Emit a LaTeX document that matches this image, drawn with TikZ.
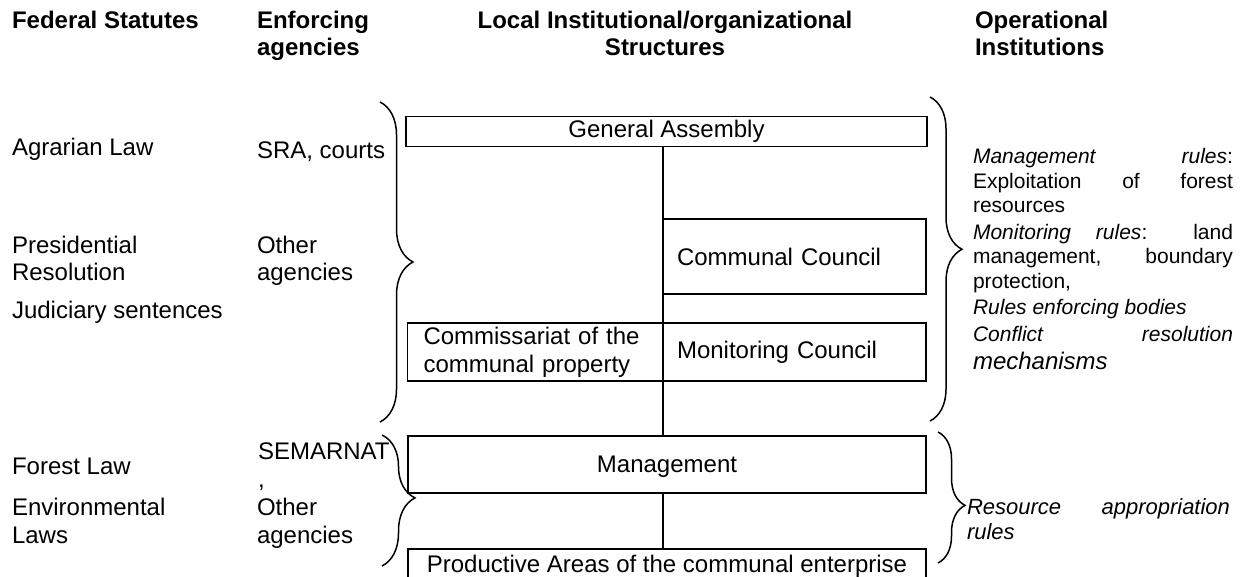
\documentclass[tikz,border=0pt]{standalone}
\usepackage{fontspec}
\setmainfont{Liberation Sans}
\usetikzlibrary{decorations.pathreplacing}
\newlength\colw
\setlength\colw{130pt}
\newlength\lowcolw
\setlength\lowcolw{131.5pt}
\newlength\comw
\setlength\comw{112pt}
\begin{document}
\begin{tikzpicture}[x=0.5pt,y=-0.5pt,
  every node/.style={inner sep=0pt,outer sep=0pt},
  hdr/.style={font=\fontsize{12}{13.5}\selectfont\bfseries,anchor=base west},
  hdrc/.style={font=\fontsize{12}{13.5}\selectfont\bfseries,anchor=base},
  txt/.style={font=\fontsize{12}{13.5}\selectfont,anchor=base west},
  rtxt/.style={font=\fontsize{10.5}{12.5}\selectfont,anchor=base west},
  ltxt/.style={font=\fontsize{11}{13}\selectfont,anchor=base west},
  box/.style={draw,line width=0.65pt,font=\fontsize{12}{14}\selectfont},
  lbox/.style={box,align=left,inner xsep=#1},
  link/.style={line width=0.65pt},
  curly/.style 2 args={decorate,decoration={brace,amplitude=#1,aspect=#2},line width=0.75pt}
]
\clip (0,0) rectangle (1240,577);
\fill[white] (0,0) rectangle (1240,577);

% column headings
\node[hdr]  (h1)  at (12,29)  {Federal Statutes};
\node[hdr]  (h2a) at (257,29) {Enforcing};
\node[hdr]  (h2b) at (257,56) {agencies};
\node[hdrc] (h3a) at (665,29) {Local Institutional/organizational};
\node[hdrc] (h3b) at (665,56) {Structures};
\node[hdr]  (h4a) at (975,29) {Operational};
\node[hdr]  (h4b) at (975,56) {Institutions};

% federal statutes
\node[txt] (fs1)  at (12,156) {Agrarian Law};
\node[txt] (fs2a) at (12,253) {Presidential};
\node[txt] (fs2b) at (12,280) {Resolution};
\node[txt] (fs3)  at (12,318) {Judiciary sentences};
\node[txt] (fs4)  at (12,474) {Forest Law};
\node[txt] (fs5a) at (12,515) {Environmental};
\node[txt] (fs5b) at (12,543) {Laws};

% enforcing agencies
\node[txt] (ea1)  at (257,159) {SRA, courts};
\node[txt] (ea2a) at (257,253) {Other};
\node[txt] (ea2b) at (257,280) {agencies};
\node[txt] (ea3a) at (258,459) {SEMARNAT};
\node[txt] (ea3b) at (258,487) {,};
\node[txt] (ea4a) at (257,515) {Other};
\node[txt] (ea4b) at (257,543) {agencies};

% local structures
\node[box,minimum width=260.5pt,minimum height=15pt] (ga) at (666.5,131.5) {General Assembly};
\node[lbox=7pt,text width=117.5pt,minimum height=37.5pt] (cc) at (794.5,256.5) {Communal Council};
\node[lbox=8pt,text width=\comw,minimum height=29pt] (com) at (535.5,352)
  {\makebox[\comw][s]{Commissariat of the}\\communal property};
\node[lbox=7pt,text width=117.5pt,minimum height=29pt] (mon) at (794.5,352) {Monitoring Council};
\node[box,minimum width=259pt,minimum height=28.5pt,text depth=0pt] (mgmt) at (667,464.5) {Management};
\node[box,minimum width=259pt,minimum height=17pt] (prod) at (667,566)
  {Productive Areas of the communal enterprise};

\draw[link] (ga.south -| cc.west) -- (mgmt.north -| cc.west);
\draw[link] (mgmt.south -| cc.west) -- (prod.north -| cc.west);

% braces
\draw[curly={16.5pt}{0.5}]  (380,102) -- (380,422);
\draw[curly={16.5pt}{0.48}] (382,435) -- (382,566);
\draw[curly={16pt}{0.47}]   (930,97)  -- (930,421);
\draw[curly={13.5pt}{0.56}] (938,432) -- (938,563);

% operational institutions
\node[rtxt] (r1) at (973,164) {\makebox[\colw][s]{\textit{Management} \textit{rules}:}};
\node[rtxt] (r2) at (973,189) {\makebox[\colw][s]{Exploitation of forest}};
\node[rtxt] (r3) at (973,213) {resources};
\node[rtxt] (r4) at (973,239) {\makebox[\colw][s]{\textit{Monitoring} \textit{rules}: land}};
\node[rtxt] (r5) at (973,263) {\makebox[\colw][s]{management, boundary}};
\node[rtxt] (r6) at (973,288) {protection,};
\node[rtxt] (r7) at (973,314) {\textit{Rules enforcing bodies}};
\node[rtxt] (r8) at (973,341) {\makebox[\colw][s]{\textit{Conflict} \textit{resolution}}};
\node[rtxt,font=\fontsize{12}{14}\selectfont] (r9) at (973,369) {\textit{mechanisms}};

\node[ltxt] (s1) at (967,514) {\makebox[\lowcolw][s]{\textit{Resource} \textit{appropriation}}};
\node[ltxt] (s2) at (967,539) {\textit{rules}};
\end{tikzpicture}
\end{document}
